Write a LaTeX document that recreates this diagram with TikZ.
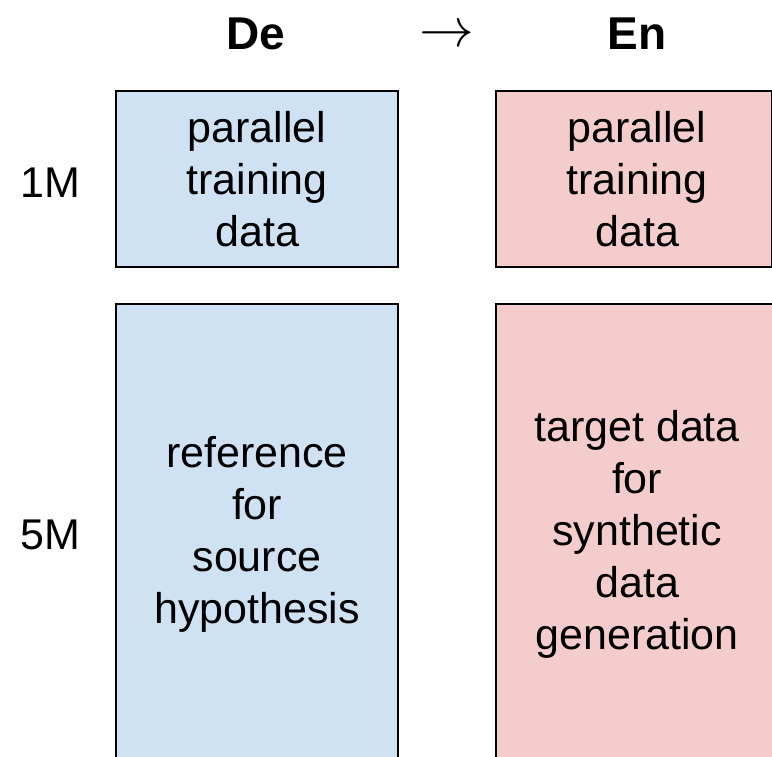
\documentclass[tikz,border=0pt]{standalone}
\usepackage{fontspec}
\setmainfont{Liberation Sans}
\setsansfont{Liberation Sans}
\usepackage{tikz}
\definecolor{Src}{HTML}{CFE2F3}
\definecolor{Tgt}{HTML}{F4CCCC}
\definecolor{Ink}{HTML}{000000}

\begin{document}
\begin{tikzpicture}[
  x=1pt, y=-1pt,
  font=\sffamily\fontsize{43}{52}\selectfont,
  cell/.style={draw=Ink, line width=2.2pt, inner sep=0pt, align=center, anchor=north west},
  hdr/.style={font=\sffamily\bfseries\fontsize{46}{52}\selectfont, anchor=base},
  rowlab/.style={inner sep=0pt},
]
\clip (0,0) rectangle (772,757);
% column heads
\node[hdr] (de) at (256,50) {De};
\node[inner sep=0pt] (arr) at (447,36) {\scalebox{2.2}{$\rightarrow$}};
\node[hdr] (en) at (637,50) {En};
% row labels
\node[rowlab] (r1) at (50,183) {1M};
\node[rowlab] (r5) at (50,535) {5M};
% boxes
\node[cell, fill=Src, minimum width=282pt, minimum height=176pt] (dep) at (115,90) {parallel\\training\\data};
\node[cell, fill=Tgt, minimum width=276pt, minimum height=176pt] (enp) at (495,90) {\hspace*{6pt}parallel\\\hspace*{6pt}training\\\hspace*{6pt}data};
\node[cell, fill=Src, minimum width=282pt, minimum height=460pt] (deref) at (115,303) {reference\\for\\source\\hypothesis};
\node[cell, fill=Tgt, minimum width=282pt, minimum height=460pt] (entgt) at (495,303) {target data\\for\\synthetic\\data\\generation};
\end{tikzpicture}
\end{document}
